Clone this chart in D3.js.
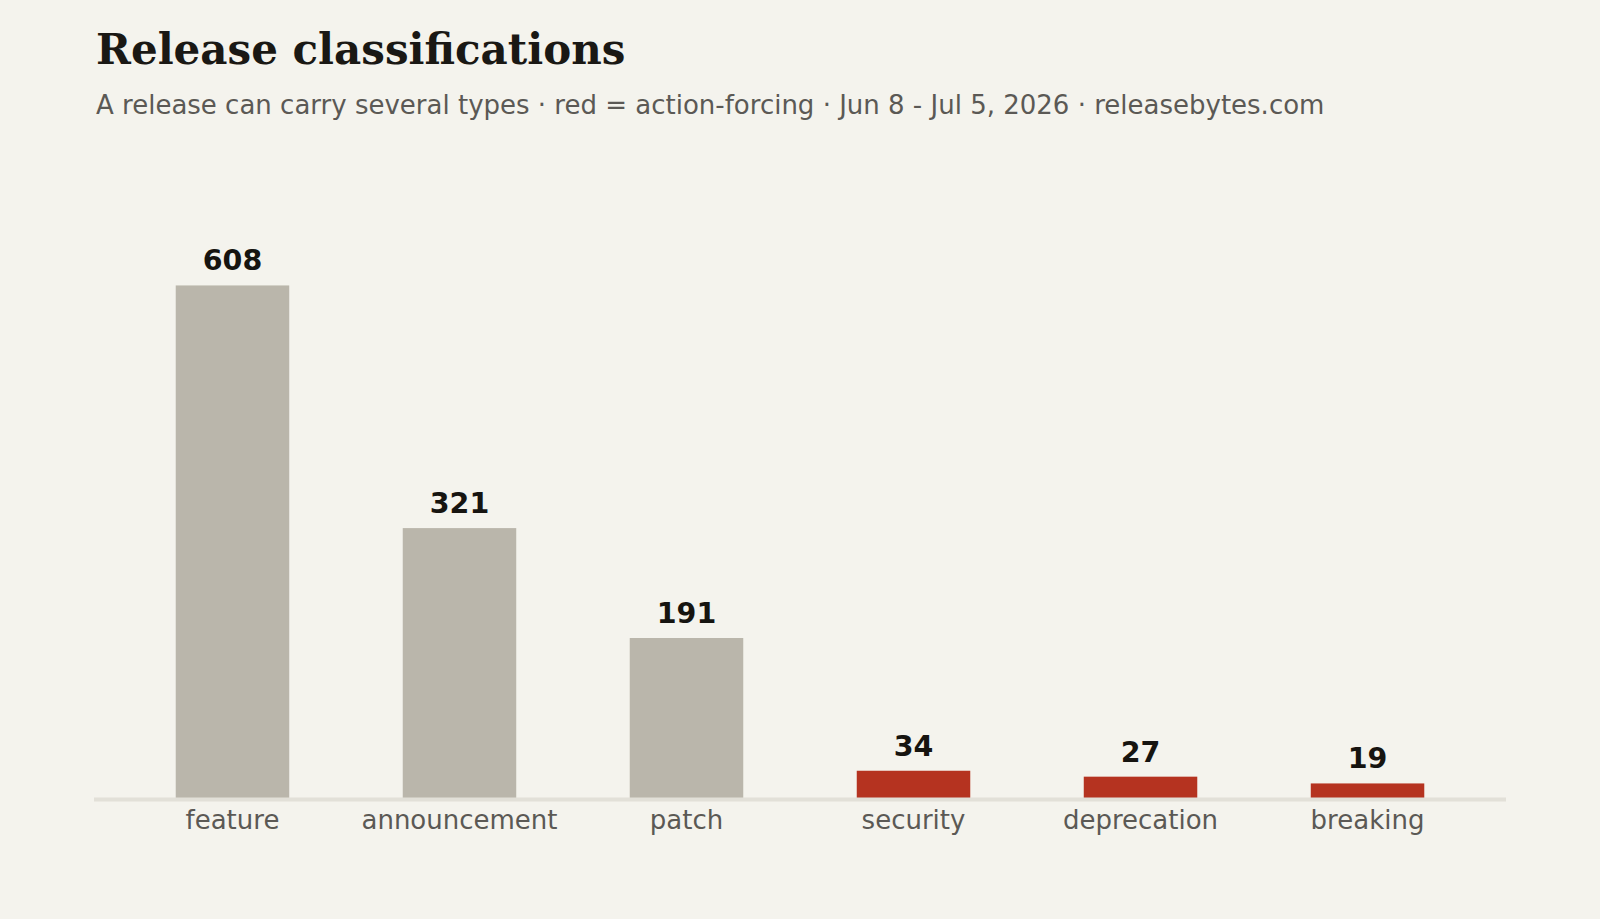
<!DOCTYPE html>
<html>
<head>
<meta charset="utf-8">
<script src="https://cdn.jsdelivr.net/npm/d3@7"></script>
<style>
  body { margin: 0; background: #f4f3ed; }
  svg { display: block; }
</style>
</head>
<body>
<svg id="chart"></svg>
<script>
var WIDTH = 1600;
var HEIGHT = 919;

// release types, counts, and which ones force action
var categories = ["feature", "announcement", "patch", "security", "deprecation", "breaking"];
var counts = [608, 321, 191, 34, 27, 19];
var actionForcing = [false, false, false, true, true, true];

var svg = d3.select("#chart")
    .attr("width", WIDTH)
    .attr("height", HEIGHT);

svg.append("rect")
    .attr("width", WIDTH)
    .attr("height", HEIGHT)
    .attr("fill", "#f4f3ed");

svg.append("text")
    .attr("x", 96)
    .attr("y", 64)
    .attr("font-family", "'DejaVu Serif', serif")
    .attr("font-weight", "bold")
    .attr("font-size", 42)
    .attr("fill", "#1a1814")
    .text("Release classifications");

svg.append("text")
    .attr("x", 96)
    .attr("y", 114)
    .attr("font-family", "'DejaVu Sans', sans-serif")
    .attr("font-size", 26)
    .attr("fill", "#5b5955")
    .text("A release can carry several types \u00b7 red = action-forcing \u00b7 Jun 8 - Jul 5, 2026 \u00b7 releasebytes.com");

var baseY = 799.5;

var x = d3.scaleBand()
    .domain(categories)
    .range([94, 1506])
    .paddingInner(0.5)
    .paddingOuter(0.36);

var y = d3.scaleLinear()
    .domain([0, 700])
    .range([baseY, baseY - 700 * 0.8455]);

var data = categories.map(function(c, i) {
    return {name: c, value: counts[i], red: actionForcing[i]};
});

svg.append("g")
    .selectAll("rect")
    .data(data)
    .enter()
    .append("rect")
    .attr("x", function(d) { return x(d.name); })
    .attr("width", x.bandwidth())
    .attr("y", function(d) { return y(d.value); })
    .attr("height", function(d) { return y(0) - y(d.value); })
    .attr("fill", function(d) { return d.red ? "#b53320" : "#bab6ab"; });

svg.append("g")
    .selectAll("text")
    .data(data)
    .enter()
    .append("text")
    .attr("x", function(d) { return x(d.name) + x.bandwidth() / 2; })
    .attr("y", function(d) { return y(d.value) - 15; })
    .attr("text-anchor", "middle")
    .attr("font-family", "'DejaVu Sans', sans-serif")
    .attr("font-weight", "bold")
    .attr("font-size", 28.5)
    .attr("fill", "#161410")
    .text(function(d) { return d.value; });

// baseline + category labels
var axis = svg.append("g")
    .attr("transform", "translate(0," + baseY + ")")
    .call(d3.axisBottom(x).tickSize(0).tickPadding(11));

axis.select(".domain")
    .attr("stroke", "#e2e0d8")
    .attr("stroke-width", 4)
    .attr("d", "M94,0H1506");

axis.selectAll("text")
    .attr("font-family", "'DejaVu Sans', sans-serif")
    .attr("font-size", 26)
    .attr("fill", "#5b5955");
</script>
</body>
</html>
